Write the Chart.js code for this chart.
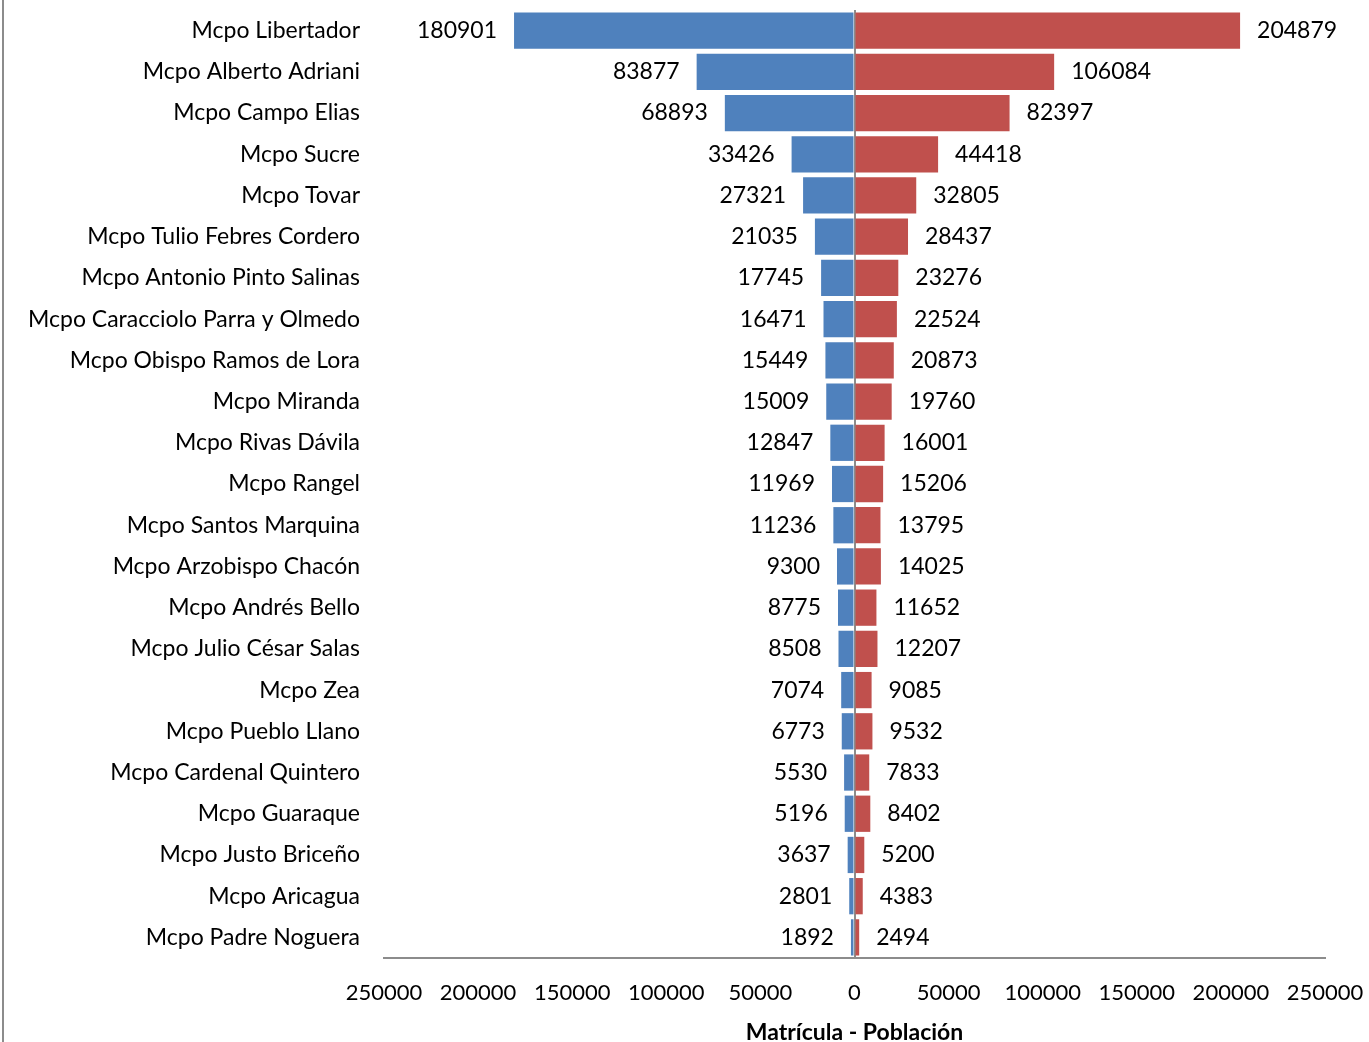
<!DOCTYPE html>
<html>
<head>
<meta charset="utf-8">
<script src="https://cdn.jsdelivr.net/npm/chart.js@4.4.1/dist/chart.umd.min.js"></script>
<style>
  html, body { margin: 0; padding: 0; background: #fff; }
  #wrap { position: relative; width: 1369px; height: 1042px; }
  #frame { position: absolute; left: 2px; top: 0; width: 2px; height: 1042px; background: #8c8c8c; }
</style>
</head>
<body>
<div id="wrap">
  <div id="frame"></div>
  <canvas id="chart" width="1369" height="1042"></canvas>
</div>
<script>
const municipios = [
  "Mcpo Libertador", "Mcpo Alberto Adriani", "Mcpo Campo Elias", "Mcpo Sucre",
  "Mcpo Tovar", "Mcpo Tulio Febres Cordero", "Mcpo Antonio Pinto Salinas",
  "Mcpo Caracciolo Parra y Olmedo", "Mcpo Obispo Ramos de Lora", "Mcpo Miranda",
  "Mcpo Rivas Dávila", "Mcpo Rangel", "Mcpo Santos Marquina", "Mcpo Arzobispo Chacón",
  "Mcpo Andrés Bello", "Mcpo Julio César Salas", "Mcpo Zea", "Mcpo Pueblo Llano",
  "Mcpo Cardenal Quintero", "Mcpo Guaraque", "Mcpo Justo Briceño", "Mcpo Aricagua",
  "Mcpo Padre Noguera"
];
const matricula = [
  180901, 83877, 68893, 33426, 27321, 21035, 17745, 16471, 15449, 15009, 12847,
  11969, 11236, 9300, 8775, 8508, 7074, 6773, 5530, 5196, 3637, 2801, 1892
];
const poblacion = [
  204879, 106084, 82397, 44418, 32805, 28437, 23276, 22524, 20873, 19760, 16001,
  15206, 13795, 14025, 11652, 12207, 9085, 9532, 7833, 8402, 5200, 4383, 2494
];
const xTicks = [-250000, -200000, -150000, -100000, -50000, 0, 50000, 100000, 150000, 200000, 250000];

const FONT = "Lato";

const valueLabels = {
  id: "valueLabels",
  afterDatasetsDraw(chart) {
    const ctx = chart.ctx;
    ctx.save();
    ctx.font = "23px " + FONT;
    ctx.fillStyle = "#000";
    ctx.textBaseline = "middle";
    chart.data.datasets.forEach((ds, di) => {
      const meta = chart.getDatasetMeta(di);
      meta.data.forEach((bar, i) => {
        const v = Math.abs(ds.data[i]);
        if (ds.data[i] < 0) {
          ctx.textAlign = "right";
          ctx.fillText(String(v), bar.x - 17, bar.y);
        } else {
          ctx.textAlign = "left";
          ctx.fillText(String(v), bar.x + 17, bar.y);
        }
      });
    });
    ctx.restore();
  }
};

new Chart(document.getElementById("chart"), {
  type: "bar",
  data: {
    labels: municipios,
    datasets: [
      {
        label: "Matrícula",
        data: matricula.map(v => -v),
        backgroundColor: "#4F81BD",
        barPercentage: 0.88,
        categoryPercentage: 1
      },
      {
        label: "Población",
        data: poblacion,
        backgroundColor: "#C0504D",
        barPercentage: 0.88,
        categoryPercentage: 1
      }
    ]
  },
  options: {
    indexAxis: "y",
    responsive: false,
    animation: false,
    layout: { padding: { top: 10, right: 44, left: 0, bottom: 0 } },
    plugins: {
      legend: { display: false },
      tooltip: { enabled: false }
    },
    scales: {
      x: {
        stacked: true,
        min: -250000,
        max: 250000,
        afterBuildTicks: (scale) => { scale.ticks = xTicks.map(v => ({ value: v })); },
        afterFit: (scale) => {
          scale.height = 84;
          scale.paddingLeft = 0;
          scale.paddingRight = 0;
        },
        border: { display: true, color: "#8c8c8c", width: 2 },
        grid: {
          drawTicks: false,
          color: (c) => (c.tick && c.tick.value === 0 ? "#8c8c8c" : "rgba(0,0,0,0)"),
          lineWidth: 2
        },
        ticks: {
          padding: 22,
          color: "#000",
          font: { family: FONT, size: 22 },
          maxRotation: 0,
          autoSkip: false,
          callback: (v) => String(Math.abs(v))
        },
        title: {
          display: true,
          text: "Matrícula - Población",
          color: "#000",
          font: { family: FONT, size: 23, weight: "bold" },
          padding: { top: 4, bottom: -4 }
        }
      },
      y: {
        stacked: true,
        afterFit: (scale) => {
          scale.width = 384;
          scale.paddingTop = 0;
          scale.paddingBottom = 0;
        },
        border: { display: false },
        grid: { display: false },
        ticks: {
          padding: 16,
          color: "#000",
          font: { family: FONT, size: 23 },
          autoSkip: false
        }
      }
    }
  },
  plugins: [valueLabels]
});
</script>
</body>
</html>
